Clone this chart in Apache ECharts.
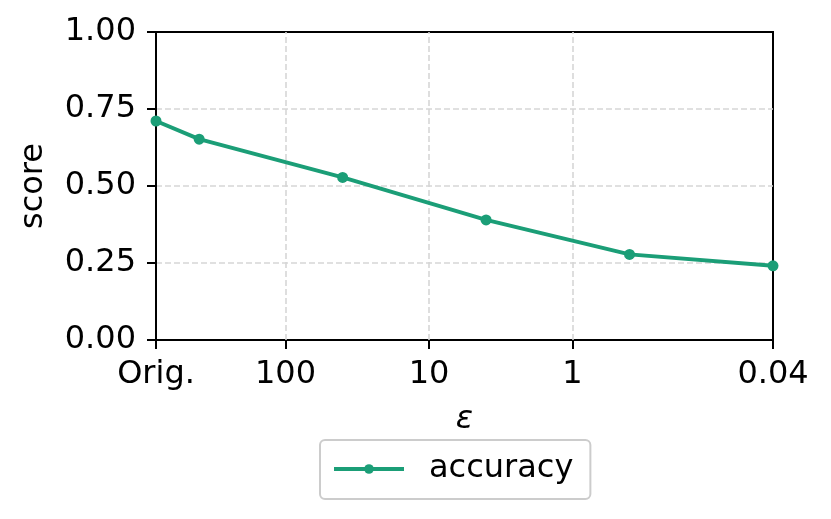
<!DOCTYPE html>
<html>
<head>
<meta charset="utf-8">
<script src="https://cdn.jsdelivr.net/npm/echarts@6/dist/echarts.min.js"></script>
<style>html,body{margin:0;padding:0;background:#fff}#c{width:831px;height:519px}</style>
</head>
<body>
<div id="c"></div>
<script>
// Data
const epsilonLabels = ['Orig.', '400', '40', '4', '0.4', '0.04'];
const epsilonValues = [800, 400, 40, 4, 0.4, 0.04];   // 'Orig.' drawn at 800 on the log scale
const accuracy = [0.711, 0.652, 0.528, 0.390, 0.278, 0.241];
const xTickEps = [800, 100, 10, 1, 0.04];
const xTickLabels = ['Orig.', '100', '10', '1', '0.04'];
const yTicks = [0, 0.25, 0.5, 0.75, 1.0];

const toX = e => -Math.log10(e);
const xTickPos = xTickEps.map(toX);
const seriesData = epsilonValues.map((e, i) => [toX(e), accuracy[i]]);

const FONT = 'DejaVu Sans';
const FS = 32;
const COLOR = '#1b9e77';
const GRIDC = '#d6d6d6';
const chart = echarts.init(document.getElementById('c'), null, {renderer: 'canvas'});
chart.setOption({
  animation: false,
  grid: {left: 156, right: 58, top: 32, bottom: 179, show: true, borderColor: '#000', borderWidth: 2, backgroundColor: 'transparent'},
  legend: {
    left: 320, top: 440,
    data: ['accuracy'],
    itemWidth: 70, itemHeight: 12,
    padding: [13, 17, 14, 12],
    borderColor: '#cccccc', borderWidth: 2, borderRadius: 5,
    lineStyle: {width: 4, color: COLOR},
    itemStyle: {color: COLOR},
    textStyle: {fontFamily: FONT, fontSize: FS, color: '#000', padding: [0, 0, 0, 20]}
  },
  xAxis: {
    type: 'value',
    min: xTickPos[0], max: xTickPos[xTickPos.length - 1],
    name: 'ε', nameLocation: 'middle', nameGap: 64,
    nameTextStyle: {fontFamily: FONT, fontSize: FS, fontStyle: 'italic', color: '#000'},
    axisLine: {show: true, onZero: false, lineStyle: {color: '#000', width: 2}},
    axisTick: {show: true, inside: false, length: 9, lineStyle: {color: '#000', width: 2}, customValues: xTickPos},
    axisLabel: {
      fontFamily: FONT, fontSize: FS, color: '#000', margin: 19,
      customValues: xTickPos,
      formatter: v => {
        let best = 0, d = Infinity;
        xTickPos.forEach((p, i) => { if (Math.abs(p - v) < d) { d = Math.abs(p - v); best = i; } });
        return xTickLabels[best];
      }
    },
    splitLine: {show: false}
  },
  yAxis: {
    type: 'value', min: 0, max: 1, interval: 0.25,
    name: 'score', nameLocation: 'middle', nameGap: 106,
    nameTextStyle: {fontFamily: FONT, fontSize: FS, color: '#000'},
    axisLine: {show: true, onZero: false, lineStyle: {color: '#000', width: 2}},
    axisTick: {show: true, inside: false, length: 9, lineStyle: {color: '#000', width: 2}},
    axisLabel: {fontFamily: FONT, fontSize: FS, color: '#000', margin: 20, formatter: v => v.toFixed(2)},
    splitLine: {show: true, showMinLine: false, showMaxLine: false, lineStyle: {color: GRIDC, width: 1.6, type: [6, 3]}}
  },
  series: [{
    name: 'accuracy',
    type: 'line',
    data: seriesData,
    symbol: 'circle', symbolSize: 11,
    lineStyle: {color: COLOR, width: 4},
    itemStyle: {color: COLOR},
    z: 5,
    markLine: {
      silent: true, symbol: ['none', 'none'], label: {show: false}, z: 1,
      lineStyle: {color: GRIDC, width: 1.6, type: [6, 3]},
      data: xTickPos.slice(1, -1).map(p => ({xAxis: p}))
    }
  }]
});
</script>
</body>
</html>
